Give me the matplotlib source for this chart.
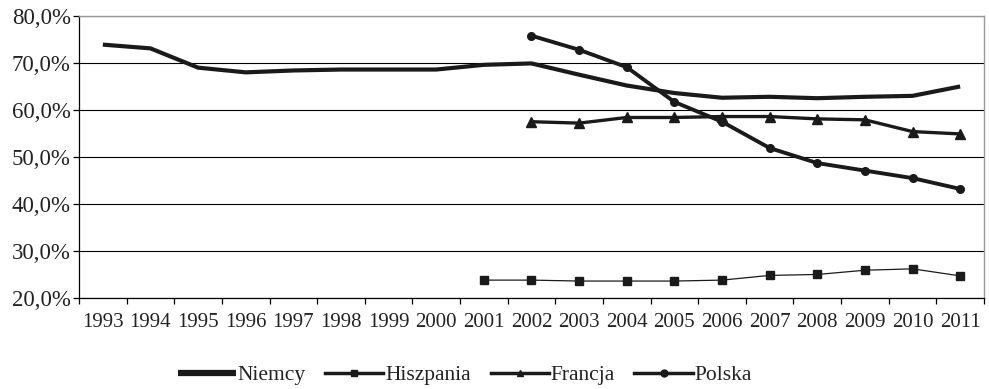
import numpy as np
import matplotlib
matplotlib.use('Agg')
import matplotlib.pyplot as plt

plt.rcParams['font.family'] = ['Liberation Serif', 'DejaVu Serif']

# Data
years = [str(y) for y in range(1993, 2012)]
niemcy = [73.9, 73.1, 69.0, 68.0, 68.4, 68.6, 68.6, 68.6, 69.6, 69.9,
          67.5, 65.2, 63.6, 62.6, 62.8, 62.5, 62.8, 63.0, 65.0]
hiszpania_years = years[8:]
hiszpania = [23.8, 23.8, 23.6, 23.6, 23.6, 23.8, 24.8, 25.0, 25.9, 26.2, 24.7]
francja_years = years[9:]
francja = [57.5, 57.2, 58.4, 58.4, 58.6, 58.6, 58.1, 57.9, 55.4, 54.9]
polska_years = years[9:]
polska = [75.8, 72.8, 69.1, 61.7, 57.5, 51.9, 48.7, 47.1, 45.5, 43.2]
yticks = [20, 30, 40, 50, 60, 70, 80]

fig = plt.figure(figsize=(9.89, 3.89), dpi=100)
ax = fig.add_axes([0.0799, 0.234, 0.915, 0.725])

pos = {y: i for i, y in enumerate(years)}
col = '#1a1a1a'

ax.plot([pos[y] for y in years], niemcy, color=col, lw=3.0, label='Niemcy',
        solid_capstyle='butt', zorder=3)
ax.plot([pos[y] for y in hiszpania_years], hiszpania, color=col, lw=0.9,
        marker='s', ms=5.5, label='Hiszpania', zorder=3)
ax.plot([pos[y] for y in francja_years], francja, color=col, lw=2.4,
        marker='^', ms=6.5, label='Francja', zorder=3)
ax.plot([pos[y] for y in polska_years], polska, color=col, lw=2.8,
        marker='o', ms=5.5, label='Polska', zorder=3)

ax.set_xlim(-0.5, len(years) - 0.5)
ax.set_ylim(20, 80)
ax.set_yticks(yticks)
ax.yaxis.set_major_formatter(matplotlib.ticker.FuncFormatter(
    lambda v, p: ('%.1f%%' % v).replace('.', ',')))
ax.set_xticks(range(len(years)))
ax.set_xticklabels(years)
ax.set_xticks(np.arange(-0.5, len(years), 1.0), minor=True)
ax.tick_params(axis='x', which='major', length=0, pad=11, labelsize=15,
               labelcolor='#222222')
ax.tick_params(axis='x', which='minor', length=4, width=0.9, color='black')
ax.tick_params(axis='y', length=4, width=0.9, pad=2, labelsize=16.5,
               labelcolor='#222222')

ax.set_axisbelow(True)
ax.yaxis.grid(True, color='black', lw=0.8)
for s in ['top', 'right']:
    ax.spines[s].set_color('#999999')
    ax.spines[s].set_linewidth(1.0)
for s in ['left', 'bottom']:
    ax.spines[s].set_color('black')
    ax.spines[s].set_linewidth(0.9)

leg = fig.legend(loc='center', bbox_to_anchor=(0.47, 0.035), ncol=4,
                 frameon=False, fontsize=15.5, handlelength=2.7,
                 handletextpad=0.1, columnspacing=0.9)
for t in leg.get_texts():
    t.set_color('#222222')
for h, lw in zip(leg.legend_handles, [4.5, 2.5, 2.5, 2.5]):
    h.set_linewidth(lw)
    h.set_markersize(5)

fig.savefig('out.png', dpi=100)
